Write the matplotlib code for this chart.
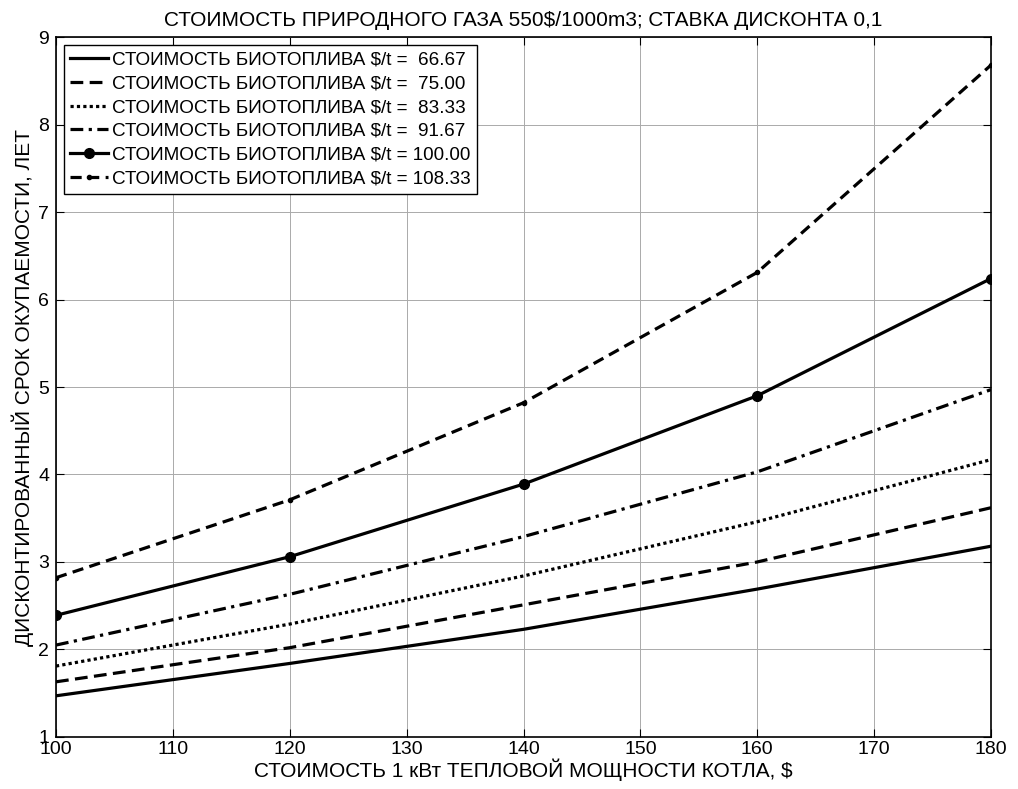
import matplotlib
matplotlib.use("Agg")
import matplotlib.pyplot as plt

plt.rcParams['font.family'] = ['Liberation Sans', 'DejaVu Sans']

# boiler cost per 1 kW, $
boiler_cost = [100, 120, 140, 160, 180]
# biofuel price, $/t
fuel_prices = [66.67, 75.00, 83.33, 91.67, 100.00, 108.33]
# discounted payback period, years (one row per fuel price)
payback_6667 = [1.47, 1.84, 2.23, 2.69, 3.18]
payback_7500 = [1.63, 2.02, 2.51, 3.00, 3.62]
payback_8333 = [1.81, 2.29, 2.84, 3.46, 4.17]
payback_9167 = [2.05, 2.63, 3.29, 4.03, 4.97]
payback_10000 = [2.39, 3.06, 3.89, 4.90, 6.24]
payback_10833 = [2.82, 3.71, 4.82, 6.31, 8.68]

series = [payback_6667, payback_7500, payback_8333,
          payback_9167, payback_10000, payback_10833]
styles = [
    dict(ls='-'),
    dict(ls=(0, (4, 2))),
    dict(ls=(0, (1, 1))),
    dict(ls=(0, (4, 1.7, 1, 1.7))),
    dict(ls='-', marker='o', ms=7),
    dict(ls=(0, (3.5, 2)), marker='.', ms=6),
]

fig = plt.figure(figsize=(10.18, 7.89), dpi=100)
ax = fig.add_axes([0.055, 0.066, 0.9185, 0.887])

for price, vals, st in zip(fuel_prices, series, styles):
    label = "СТОИМОСТЬ БИОТОПЛИВА $/t = %6.2f" % price
    ax.plot(boiler_cost, vals, color='black', lw=2.3, label=label, **st)

ax.set_xlim(100, 180)
ax.set_ylim(1, 9)
ax.set_xticks(range(100, 181, 10))
ax.set_yticks(range(1, 10))
ax.grid(True, color='#aaaaaa', lw=0.7)
ax.tick_params(direction='in', top=True, right=True, labelsize=14, length=6)
ax.tick_params(axis='x', pad=3)
ax.tick_params(axis='y', pad=5)
for s in ax.spines.values():
    s.set_linewidth(1.2)

ax.set_title("СТОИМОСТЬ ПРИРОДНОГО ГАЗА 550$/1000m3; СТАВКА ДИСКОНТА 0,1",
             fontsize=15, pad=8)
ax.set_xlabel("СТОИМОСТЬ 1 кВт ТЕПЛОВОЙ МОЩНОСТИ КОТЛА, $", fontsize=15, labelpad=0)
ax.set_ylabel("ДИСКОНТИРОВАННЫЙ СРОК ОКУПАЕМОСТИ, ЛЕТ", fontsize=15, labelpad=3)

leg = ax.legend(loc='upper left', fontsize=13.6, frameon=True, fancybox=False,
                edgecolor='black', framealpha=1, borderaxespad=0.4,
                handlelength=2.0, handletextpad=0.2, labelspacing=0.35,
                borderpad=0.35)
leg.get_frame().set_linewidth(1.0)

fig.savefig("out.png", dpi=100)
